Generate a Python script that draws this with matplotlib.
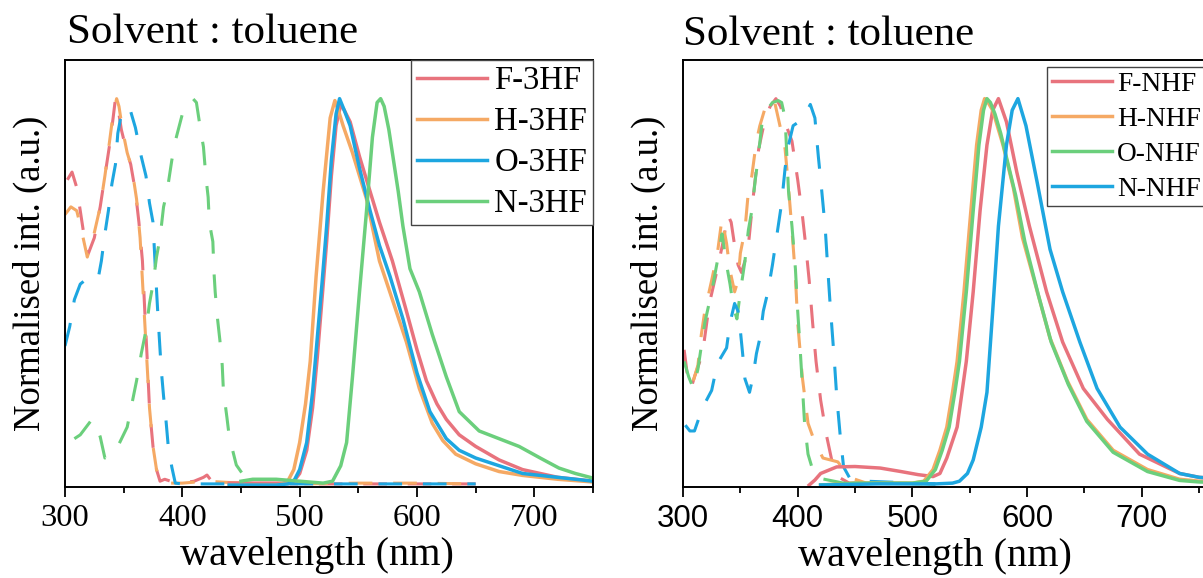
import matplotlib.pyplot as plt
from matplotlib.ticker import MultipleLocator

plt.rcParams['font.family'] = 'Liberation Serif'
plt.rcParams['lines.scale_dashes'] = False

# ---------- left panel: 3HF series ----------
names_3hf = ['F-3HF', 'H-3HF', 'O-3HF', 'N-3HF']
colors_3hf = ['#E8737D', '#F5A964', '#1DA6E0', '#6BCF7C']

# absorption (dashed)
abs_f3_x = [302, 306, 310, 313, 316, 320, 325, 330, 334, 338, 341, 343, 345, 348, 352, 356, 360, 363,
            366, 368, 370, 372, 375, 378, 381, 385, 390, 400, 410, 418, 421, 425, 440, 500, 550, 600, 650]
abs_f3_y = [0.79, 0.81, 0.77, 0.71, 0.65, 0.60, 0.64, 0.72, 0.80, 0.88, 0.95, 1.0, 0.98, 0.92, 0.87, 0.83,
            0.76, 0.68, 0.58, 0.45, 0.33, 0.20, 0.10, 0.04, 0.01, 0.015, 0.01, 0.005, 0.01, 0.02, 0.026,
            0.01, 0.005, 0.003, 0.003, 0.003, 0.003]
abs_h3_x = [300, 305, 310, 314, 319, 324, 330, 334, 338, 341, 344, 346, 349, 353, 357, 361, 364, 366,
            368, 370, 372, 375, 378, 382, 390, 400, 420, 450, 500, 550, 600, 650]
abs_h3_y = [0.70, 0.72, 0.71, 0.66, 0.59, 0.64, 0.72, 0.80, 0.89, 0.96, 1.0, 0.98, 0.92, 0.86, 0.82,
            0.74, 0.64, 0.53, 0.42, 0.31, 0.20, 0.10, 0.04, 0.01, 0.005, 0.005, 0.01, 0.005, 0.003,
            0.005, 0.005, 0.003]
abs_o3_x = [300, 304, 308, 313, 317, 322, 328, 331, 334, 337, 340, 343, 345, 348, 352, 355, 360, 365,
            369, 372, 375, 377, 379, 381, 382, 384, 386, 388, 391, 394, 400, 450, 500, 550, 600, 650]
abs_o3_y = [0.36, 0.41, 0.48, 0.52, 0.53, 0.53, 0.53, 0.58, 0.65, 0.71, 0.78, 0.83, 0.91, 0.96, 0.975,
            0.977, 0.925, 0.85, 0.80, 0.73, 0.68, 0.56, 0.45, 0.35, 0.30, 0.23, 0.17, 0.10, 0.047, 0.005,
            0.003, 0.003, 0.003, 0.003, 0.003, 0.003]
abs_n3_x = [308, 313, 318, 323, 327, 330, 334, 340, 345, 353, 357, 361, 365, 369, 372, 375, 378, 381,
            384, 387, 391, 394, 400, 405, 409, 412, 415, 418, 420, 422, 423, 426, 427, 428, 430, 432,
            434, 435, 438, 440, 446, 452, 457]
abs_n3_y = [0.12, 0.13, 0.15, 0.17, 0.15, 0.125, 0.07, 0.08, 0.10, 0.15, 0.21, 0.27, 0.34, 0.40, 0.47,
            0.52, 0.59, 0.64, 0.72, 0.76, 0.84, 0.89, 0.96, 0.99, 1.0, 0.99, 0.93, 0.875, 0.80, 0.745,
            0.68, 0.63, 0.55, 0.50, 0.43, 0.375, 0.31, 0.245, 0.175, 0.125, 0.052, 0.026, 0.013]

# emission (solid)
em_f3_x = [440, 485, 495, 500, 506, 511, 515, 519, 523, 527, 531, 535, 538, 543, 551, 560, 568, 579,
           591, 600, 608, 617, 625, 636, 650, 670, 690, 720, 750]
em_f3_y = [0.005, 0.005, 0.01, 0.03, 0.09, 0.20, 0.33, 0.48, 0.63, 0.80, 0.93, 0.985, 0.97, 0.94, 0.85,
           0.76, 0.68, 0.58, 0.45, 0.35, 0.27, 0.21, 0.17, 0.13, 0.10, 0.065, 0.04, 0.02, 0.01]
em_h3_x = [440, 480, 489, 495, 500, 505, 509, 514, 520, 526, 530, 534, 537, 545, 557, 568, 579, 591,
           602, 613, 622, 633, 650, 670, 690, 720, 750]
em_h3_y = [0.0, 0.0, 0.005, 0.04, 0.11, 0.21, 0.32, 0.54, 0.76, 0.95, 0.995, 0.96, 0.93, 0.86, 0.74,
           0.58, 0.48, 0.37, 0.25, 0.16, 0.115, 0.08, 0.055, 0.035, 0.025, 0.015, 0.008]
em_o3_x = [440, 480, 490, 495, 500, 506, 511, 515, 519, 523, 527, 531, 534, 538, 543, 551, 560, 568,
           577, 588, 600, 611, 625, 636, 650, 670, 690, 720, 750]
em_o3_y = [0.0, 0.0, 0.003, 0.01, 0.04, 0.11, 0.24, 0.38, 0.52, 0.67, 0.84, 0.96, 1.0, 0.97, 0.93,
           0.82, 0.71, 0.62, 0.54, 0.43, 0.29, 0.19, 0.12, 0.09, 0.07, 0.05, 0.03, 0.02, 0.01]
em_n3_x = [450, 460, 480, 500, 520, 528, 535, 540, 545, 551, 557, 562, 566, 569, 572, 576, 579, 584,
           588, 594, 602, 613, 625, 636, 653, 670, 687, 705, 721, 735, 750]
em_n3_y = [0.01, 0.015, 0.015, 0.01, 0.005, 0.01, 0.05, 0.11, 0.28, 0.50, 0.71, 0.90, 0.99, 1.0, 0.98,
           0.92, 0.86, 0.76, 0.67, 0.56, 0.50, 0.39, 0.28, 0.19, 0.14, 0.12, 0.10, 0.07, 0.044, 0.03, 0.018]

# ---------- right panel: NHF series ----------
names_nhf = ['F-NHF', 'H-NHF', 'O-NHF', 'N-NHF']
colors_nhf = ['#E8737D', '#F5A964', '#6BCF7C', '#1DA6E0']

abs_fn_x = [301, 304, 307, 310, 317, 323, 330, 335, 339, 342, 345, 348, 351, 354, 357, 361, 366, 371,
            376, 381, 385, 390, 395, 400, 404, 407, 410, 413, 416, 420, 425, 430, 436, 445, 480, 520]
abs_fn_y = [0.35, 0.28, 0.25, 0.28, 0.34, 0.47, 0.56, 0.63, 0.70, 0.68, 0.62, 0.57, 0.55, 0.58, 0.62,
            0.74, 0.87, 0.94, 0.98, 1.0, 0.98, 0.93, 0.89, 0.79, 0.70, 0.62, 0.53, 0.42, 0.32, 0.22,
            0.13, 0.06, 0.02, 0.005, 0.005, 0.003]
abs_hn_x = [309, 313, 316, 319, 325, 330, 334, 338, 341, 345, 348, 350, 354, 357, 360, 364, 367, 371,
            376, 380, 386, 389, 392, 395, 398, 400, 404, 409, 415, 422, 435, 445, 460, 520]
abs_hn_y = [0.27, 0.31, 0.39, 0.45, 0.53, 0.60, 0.69, 0.625, 0.555, 0.50, 0.53, 0.60, 0.66, 0.76, 0.80,
            0.89, 0.93, 0.97, 1.0, 0.99, 0.91, 0.87, 0.77, 0.66, 0.54, 0.42, 0.28, 0.16, 0.11, 0.07,
            0.06, 0.02, 0.005, 0.003]
abs_on_x = [301, 305, 309, 313, 316, 319, 325, 330, 334, 338, 341, 344, 347, 350, 354, 357, 360, 363,
            365, 369, 373, 378, 383, 386, 389, 392, 395, 398, 400, 402, 404, 406, 409, 415, 440, 520]
abs_on_y = [0.32, 0.28, 0.25, 0.30, 0.36, 0.42, 0.50, 0.58, 0.65, 0.57, 0.52, 0.46, 0.43, 0.50, 0.58,
            0.66, 0.71, 0.79, 0.835, 0.94, 0.97, 0.99, 0.995, 0.99, 0.95, 0.76, 0.67, 0.56, 0.45, 0.36,
            0.26, 0.16, 0.08, 0.02, 0.005, 0.003]
abs_nn_x = [302, 306, 310, 317, 325, 330, 338, 341, 345, 348, 350, 352, 354, 358, 361, 364, 367, 370,
            374, 378, 382, 386, 389, 392, 396, 401, 406, 411, 415, 418, 421, 424, 426, 428, 430, 432,
            434, 437, 440, 445, 460, 520]
abs_nn_y = [0.155, 0.14, 0.14, 0.20, 0.245, 0.315, 0.355, 0.42, 0.47, 0.45, 0.40, 0.34, 0.275, 0.24,
            0.28, 0.34, 0.38, 0.45, 0.50, 0.57, 0.65, 0.73, 0.82, 0.88, 0.93, 0.94, 0.955, 0.985, 0.95,
            0.85, 0.76, 0.665, 0.57, 0.48, 0.40, 0.32, 0.23, 0.13, 0.047, 0.02, 0.01, 0.003]

em_fn_x = [410, 415, 420, 434, 450, 472, 490, 505, 518, 524, 530, 539, 547, 553, 559, 565, 570, 575,
           582, 591, 602, 617, 631, 649, 670, 698, 733, 750, 800]
em_fn_y = [0.0, 0.013, 0.03, 0.047, 0.048, 0.044, 0.035, 0.027, 0.022, 0.03, 0.07, 0.15, 0.32, 0.50,
           0.71, 0.88, 0.97, 1.0, 0.94, 0.81, 0.67, 0.50, 0.37, 0.25, 0.17, 0.08, 0.03, 0.02, 0.01]
em_hn_x = [420, 450, 480, 500, 510, 518, 524, 530, 535, 539, 545, 551, 556, 560, 563, 566, 570, 575,
           579, 588, 596, 609, 620, 635, 652, 675, 705, 733, 750, 800]
em_hn_y = [0.0, 0.005, 0.005, 0.005, 0.01, 0.04, 0.09, 0.15, 0.24, 0.32, 0.50, 0.71, 0.88, 0.97, 1.0,
           0.99, 0.97, 0.92, 0.88, 0.77, 0.64, 0.50, 0.38, 0.27, 0.17, 0.09, 0.04, 0.015, 0.01, 0.005]
em_on_x = [420, 450, 480, 500, 512, 520, 526, 532, 537, 541, 547, 553, 558, 562, 565, 568, 572, 577,
           581, 590, 598, 610, 621, 636, 652, 675, 705, 733, 750, 800]
em_on_y = [0.0, 0.005, 0.005, 0.005, 0.01, 0.04, 0.09, 0.15, 0.24, 0.32, 0.50, 0.71, 0.88, 0.97, 1.0,
           0.99, 0.96, 0.91, 0.86, 0.75, 0.63, 0.49, 0.37, 0.26, 0.165, 0.085, 0.035, 0.012, 0.008, 0.004]
em_nn_x = [420, 470, 520, 535, 541, 548, 553, 560, 565, 570, 575, 582, 587, 592, 599, 609, 620, 631,
           646, 661, 681, 705, 733, 750, 800]
em_nn_y = [0.0, 0.003, 0.003, 0.005, 0.01, 0.03, 0.065, 0.15, 0.24, 0.45, 0.67, 0.88, 0.97, 1.0, 0.93,
           0.78, 0.61, 0.50, 0.37, 0.25, 0.15, 0.08, 0.03, 0.02, 0.01]

tick_vals = [300, 400, 500, 600, 700]

abs_3hf = [(abs_f3_x, abs_f3_y), (abs_h3_x, abs_h3_y), (abs_o3_x, abs_o3_y), (abs_n3_x, abs_n3_y)]
em_3hf = [(em_f3_x, em_f3_y), (em_h3_x, em_h3_y), (em_o3_x, em_o3_y), (em_n3_x, em_n3_y)]
abs_nhf = [(abs_fn_x, abs_fn_y), (abs_hn_x, abs_hn_y), (abs_on_x, abs_on_y), (abs_nn_x, abs_nn_y)]
em_nhf = [(em_fn_x, em_fn_y), (em_hn_x, em_hn_y), (em_on_x, em_on_y), (em_nn_x, em_nn_y)]

fig = plt.figure(figsize=(12.03, 5.78), dpi=100)
ax1 = fig.add_axes([65 / 1203, 91 / 578, 528 / 1203, 427 / 578])
ax2 = fig.add_axes([683 / 1203, 91 / 578, 573.5 / 1203, 427 / 578])

panels = [(ax1, abs_3hf, em_3hf, names_3hf, colors_3hf, 750),
          (ax2, abs_nhf, em_nhf, names_nhf, colors_nhf, 800)]

for ax, absd, emd, names, colors, xmax in panels:
    for (x, y), c in zip(absd, colors):
        ax.plot(x, y, color=c, linewidth=2.2, dashes=(17, 15))
    for (x, y), c, n in zip(emd, colors, names):
        ax.plot(x, y, color=c, linewidth=2.5, label=n)
    ax.set_xlim(300, xmax)
    ax.set_ylim(-0.005, 1.10)
    ax.set_yticks([])
    ax.xaxis.set_minor_locator(MultipleLocator(50))
    ax.tick_params(axis='x', which='major', direction='out', length=7, width=1.3, pad=5)
    ax.tick_params(axis='x', which='minor', direction='out', length=4.5, width=1.3)
    for s in ax.spines.values():
        s.set_linewidth(1.4)
    ax.set_ylabel('Normalised int. (a.u.)', fontsize=26.5, labelpad=12)

ax1.set_xticks(tick_vals, labels=[str(v) for v in tick_vals], fontsize=23.4)
ax2.set_xticks(tick_vals, labels=[str(v) for v in tick_vals], fontsize=22.5,
               fontfamily='Liberation Sans')
ax1.set_xlabel('wavelength (nm)', fontsize=29, labelpad=3, x=252 / 528)
ax2.set_xlabel('wavelength (nm)', fontsize=29, labelpad=3, x=252 / 573.5)

leg1 = ax1.legend(loc='upper right', bbox_to_anchor=(1, 1), borderaxespad=0, fontsize=23.6,
                  handlelength=2.15, handletextpad=0.21, borderpad=0.18, labelspacing=0.32,
                  fancybox=False, edgecolor='#444444', framealpha=1)
leg1.get_frame().set_linewidth(1.0)
leg2 = ax2.legend(loc='upper left', bbox_to_anchor=(1047 / 1203, 1 - 67 / 578),
                  bbox_transform=fig.transFigure, borderaxespad=0, fontsize=19.7,
                  handlelength=2.2, handletextpad=0.2, borderpad=0.17, labelspacing=0.36,
                  fancybox=False, edgecolor='#444444', framealpha=1)
leg2.get_frame().set_linewidth(1.0)

fig.text(67 / 1203, 1 - 43 / 578, 'Solvent : toluene', fontsize=31, va='baseline')
fig.text(683 / 1203, 1 - 45 / 578, 'Solvent : toluene', fontsize=31, va='baseline')

fig.savefig('out.png', dpi=100)
